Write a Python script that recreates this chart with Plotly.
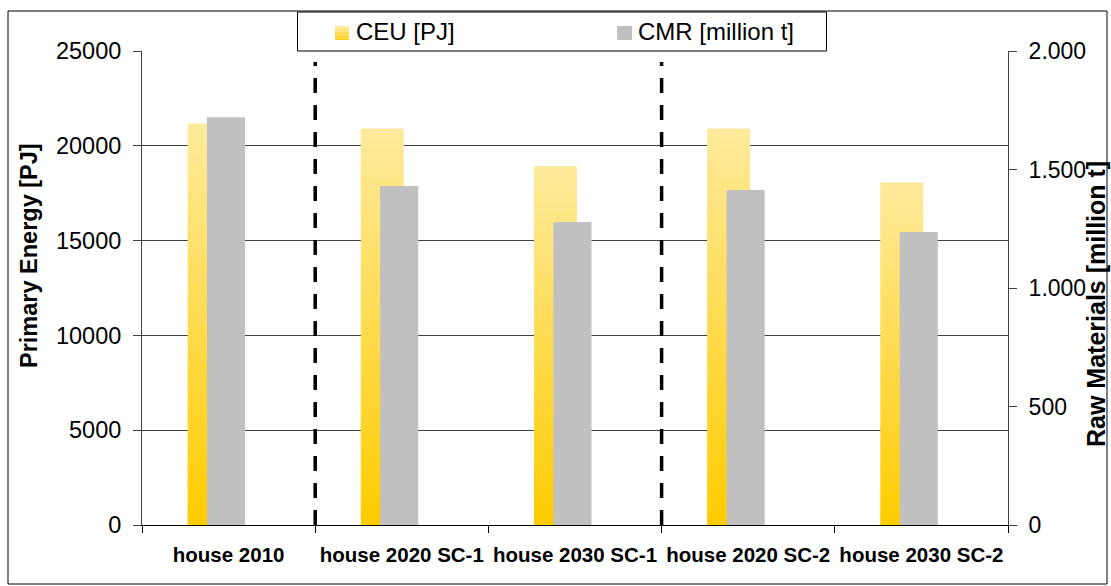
import plotly.graph_objects as go

# ---------------- data ----------------
categories = ["house 2010", "house 2020 SC-1", "house 2030 SC-1",
              "house 2020 SC-2", "house 2030 SC-2"]
ceu_pj = [21150, 20880, 18900, 20880, 18040]      # CEU [PJ] (left axis)
cmr_mt = [1720, 1430, 1278, 1413, 1236]           # CMR [million t] (right axis)
left_tickvals = [0, 5000, 10000, 15000, 20000, 25000]
right_tickvals = [0, 500, 1000, 1500, 2000]
right_ticktext = ["0", "500", "1.000", "1.500", "2.000"]
separator_positions = [0.5, 2.5]                  # between category groups

# ---------------- styling ----------------
FONT = "Liberation Sans, Arial, sans-serif"
YEL_BOTTOM = (255, 204, 0)
YEL_TOP = (254, 234, 156)
GRAY = "#C0C0C0"
N_SEG = 40


def lerp(c0, c1, t):
    return "rgb(%d,%d,%d)" % tuple(round(a + (b - a) * t) for a, b in zip(c0, c1))


fig = go.Figure()

# CEU bars with vertical gradient (stacked thin slices of each bar)
for k in range(N_SEG):
    t = (k + 0.5) / N_SEG
    col = lerp(YEL_BOTTOM, YEL_TOP, t)
    fig.add_bar(
        x=categories,
        y=[v / N_SEG for v in ceu_pj],
        base=[v * k / N_SEG for v in ceu_pj],
        marker=dict(color=col, line=dict(width=1, color=col)),
        offset=-0.234, width=0.242,
        yaxis="y", showlegend=False, hoverinfo="skip",
    )

# CMR bars
fig.add_bar(
    x=categories, y=cmr_mt,
    marker=dict(color=GRAY, line=dict(width=0)),
    offset=-0.125, width=0.22,
    yaxis="y2", showlegend=False, name="CMR [million t]",
)

# ---------------- shapes ----------------
def px_x(px):
    return (px - 142) / 866


def px_y(py):
    return (525 - py) / 474


shapes = []
# outer frame
shapes.append(dict(type="rect", xref="paper", yref="paper",
                   x0=px_x(8), x1=px_x(1107), y0=px_y(584), y1=px_y(11),
                   line=dict(color="black", width=1), layer="below"))
# dashed separators
for s in separator_positions:
    shapes.append(dict(type="line", xref="x", yref="paper", x0=s, x1=s,
                       y0=0, y1=px_y(62),
                       line=dict(color="black", width=3.5, dash="15px,12px")))
# legend box
shapes.append(dict(type="rect", xref="paper", yref="paper",
                   x0=px_x(297.5), x1=px_x(826.5), y0=px_y(51), y1=px_y(12),
                   line=dict(color="black", width=1), fillcolor="white"))
# legend swatches
NS = 10
for k in range(NS):
    t = (k + 0.5) / NS
    y0 = 40 - 14 * k / NS
    y1 = 40 - 14 * (k + 1) / NS
    shapes.append(dict(type="rect", xref="paper", yref="paper",
                       x0=px_x(335), x1=px_x(349), y0=px_y(y0), y1=px_y(y1),
                       line=dict(width=0), fillcolor=lerp(YEL_BOTTOM, YEL_TOP, t)))
shapes.append(dict(type="rect", xref="paper", yref="paper",
                   x0=px_x(617), x1=px_x(632), y0=px_y(40), y1=px_y(26),
                   line=dict(width=0), fillcolor=GRAY))

annotations = [
    dict(text="CEU [PJ]", xref="paper", yref="paper", x=px_x(354), y=px_y(31),
         xanchor="left", yanchor="middle", showarrow=False,
         font=dict(family=FONT, size=24, color="black")),
    dict(text="CMR [million t]", xref="paper", yref="paper", x=px_x(636), y=px_y(31),
         xanchor="left", yanchor="middle", showarrow=False,
         font=dict(family=FONT, size=24, color="black")),
    dict(text="Primary Energy [PJ]", xref="paper", yref="paper",
         x=px_x(29), y=px_y(256), xanchor="center", yanchor="middle",
         textangle=-90, showarrow=False,
         font=dict(family=FONT, size=23.5, weight="bold", color="black")),
    dict(text="Raw Materials [million t]", xref="paper", yref="paper",
         x=px_x(1096), y=px_y(304), xanchor="center", yanchor="middle",
         textangle=-90, showarrow=False,
         font=dict(family=FONT, size=25, weight="bold", color="black")),
]

fig.update_layout(
    width=1111, height=586,
    margin=dict(l=142, r=103, t=51, b=61, autoexpand=False),
    paper_bgcolor="white", plot_bgcolor="white",
    barmode="overlay",
    font=dict(family=FONT, color="black"),
    shapes=shapes, annotations=annotations,
    showlegend=False,
    xaxis=dict(
        type="category", range=[-0.5, 4.5],
        showline=True, linecolor="black", linewidth=1,
        ticks="outside", tickson="boundaries", ticklen=7, tickcolor="black",
        ticklabelstandoff=11, tickangle=0,
        tickfont=dict(family=FONT, size=20.5, weight="bold", color="black"),
        showgrid=False,
    ),
    yaxis=dict(
        range=[0, 25000], tickvals=left_tickvals, tickformat="d",
        showgrid=True, gridcolor="#404040", gridwidth=1, zeroline=False,
        showline=True, linecolor="#404040", linewidth=1,
        ticks="outside", ticklen=8, tickcolor="#404040",
        ticklabelstandoff=7,
        tickfont=dict(family=FONT, size=23.5, color="black"),
    ),
    yaxis2=dict(
        overlaying="y", side="right", range=[0, 2000],
        tickvals=right_tickvals, ticktext=right_ticktext,
        showgrid=False, zeroline=False,
        showline=True, linecolor="#404040", linewidth=1,
        ticks="outside", ticklen=8, tickcolor="#404040",
        ticklabelstandoff=7,
        tickfont=dict(family=FONT, size=23, color="black"),
    ),
)

fig.write_html("out.html", config={"displayModeBar": False},
               post_script="document.body.style.margin='0';")
